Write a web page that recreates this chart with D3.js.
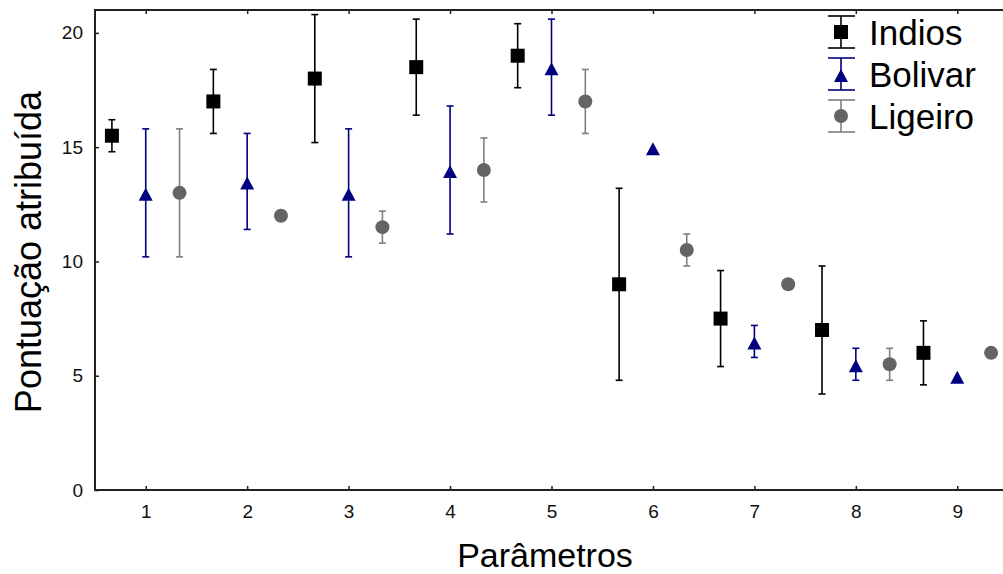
<!DOCTYPE html>
<html>
<head>
<meta charset="utf-8">
<script src="https://cdn.jsdelivr.net/npm/d3@7"></script>
<style>
  body { margin: 0; background: #fff; }
  svg { display: block; font-family: "Liberation Sans", Arial, sans-serif; }
</style>
</head>
<body>
<div id="canvas"></div>
<script>
// data
const params = [1, 2, 3, 4, 5, 6, 7, 8, 9];
const seriesNames = ["Indios", "Bolivar", "Ligeiro"];
const indiosMean = [15.5, 17, 18, 18.5, 19, 9, 7.5, 7, 6];
const indiosErr = [0.7, 1.4, 2.8, 2.1, 1.4, 4.2, 2.1, 2.8, 1.4];
const bolivarMean = [13, 13.5, 13, 14, 18.5, 15, 6.5, 5.5, 5];
const bolivarErr = [2.8, 2.1, 2.8, 2.8, 2.1, 0, 0.7, 0.7, 0];
const ligeiroMean = [13, 12, 11.5, 14, 17, 10.5, 9, 5.5, 6];
const ligeiroErr = [2.8, 0, 0.7, 1.4, 1.4, 0.7, 0, 0.7, 0];
const yTicks = [0, 5, 10, 15, 20];

const width = 1003;
const height = 574;
const margin = { top: 10, left: 95, bottom: 84, right: -5 };
const iwidth = width - margin.left - margin.right;
const iheight = height - margin.top - margin.bottom;

const series = [
  { name: seriesNames[0], mean: indiosMean, err: indiosErr, shift: -1 / 3,
    shape: "square", fill: "#000000", bar: "#000000" },
  { name: seriesNames[1], mean: bolivarMean, err: bolivarErr, shift: 0,
    shape: "triangle", fill: "#000080", bar: "#000080" },
  { name: seriesNames[2], mean: ligeiroMean, err: ligeiroErr, shift: 1 / 3,
    shape: "circle", fill: "#646464", bar: "#808080" }
];

const svg = d3.select("#canvas").append("svg")
  .attr("width", width)
  .attr("height", height);

const g = svg.append("g")
  .attr("transform", `translate(${margin.left},${margin.top})`);

const x = d3.scaleLinear().domain([0.5, 9.5]).range([0, iwidth]);
const y = d3.scaleLinear().domain([0, 21]).range([iheight, 0]);

// axes, ticks point inside
const xAxis = g.append("g")
  .attr("transform", `translate(0,${iheight})`)
  .call(d3.axisBottom(x).tickValues(params).tickSizeInner(-4).tickSizeOuter(0).tickPadding(15));
const xTop = g.append("g")
  .call(d3.axisTop(x).tickValues(params).tickSizeInner(-4).tickSizeOuter(0).tickFormat(""));
const yAxis = g.append("g")
  .call(d3.axisLeft(y).tickValues(yTicks).tickSizeInner(-4).tickSizeOuter(0).tickPadding(12));

[xAxis, xTop, yAxis].forEach((a) => {
  a.select(".domain").remove();
  a.selectAll(".tick line").attr("stroke", "#222").attr("stroke-width", 1.5);
  a.selectAll("text").attr("font-size", 19).attr("fill", "#111")
    .attr("font-family", "Liberation Sans, Arial, sans-serif");
});

// frame
g.append("rect")
  .attr("x", 0).attr("y", 0)
  .attr("width", iwidth).attr("height", iheight)
  .attr("fill", "none")
  .attr("stroke", "#222")
  .attr("stroke-width", 2);

const drawMarker = (sel, shape, fill) => {
  if (shape === "square") {
    sel.append("rect").attr("x", -7).attr("y", -7)
      .attr("width", 14).attr("height", 14).attr("fill", fill);
  } else if (shape === "triangle") {
    sel.append("path").attr("d", "M0,-5L7,8L-7,8Z").attr("fill", fill);
  } else {
    sel.append("circle").attr("r", 7).attr("fill", fill);
  }
};

// error bars and points
series.forEach((s) => {
  const pts = params.map((p, i) => ({ p: p, m: s.mean[i], e: s.err[i] }));
  const grp = g.append("g").attr("class", "series");

  const eb = grp.selectAll(".err")
    .data(pts.filter((d) => d.e > 0))
    .enter()
    .append("g")
    .attr("class", "err")
    .attr("stroke", s.bar)
    .attr("stroke-width", 1.6);

  eb.append("line")
    .attr("x1", (d) => x(d.p + s.shift)).attr("x2", (d) => x(d.p + s.shift))
    .attr("y1", (d) => y(d.m + d.e)).attr("y2", (d) => y(d.m - d.e));
  eb.append("line")
    .attr("x1", (d) => x(d.p + s.shift) - 3.5).attr("x2", (d) => x(d.p + s.shift) + 3.5)
    .attr("y1", (d) => y(d.m + d.e)).attr("y2", (d) => y(d.m + d.e));
  eb.append("line")
    .attr("x1", (d) => x(d.p + s.shift) - 3.5).attr("x2", (d) => x(d.p + s.shift) + 3.5)
    .attr("y1", (d) => y(d.m - d.e)).attr("y2", (d) => y(d.m - d.e));

  grp.selectAll(".pt")
    .data(pts)
    .enter()
    .append("g")
    .attr("class", "pt")
    .attr("transform", (d) => `translate(${x(d.p + s.shift)},${y(d.m)})`)
    .each(function () { drawMarker(d3.select(this), s.shape, s.fill); });
});

// legend
const legend = svg.append("g").attr("transform", "translate(841,0)");
series.forEach((s, i) => {
  const top = 16 + i * 42;
  const bot = top + 32;
  const mid = (top + bot) / 2;
  const item = legend.append("g");
  item.append("line").attr("x1", 0).attr("x2", 0).attr("y1", top).attr("y2", bot)
    .attr("stroke", s.bar).attr("stroke-width", 1.6);
  [top, bot].forEach((yy) => {
    item.append("line").attr("x1", -13).attr("x2", 14).attr("y1", yy).attr("y2", yy)
      .attr("stroke", s.bar).attr("stroke-width", 1.6);
  });
  drawMarker(item.append("g").attr("transform", `translate(0,${mid})`), s.shape, s.fill);
  item.append("text")
    .attr("x", 28).attr("y", 45 + i * 42)
    .attr("font-size", 35)
    .attr("fill", "#000")
    .text(s.name);
});

// axis titles
svg.append("text")
  .attr("transform", "translate(41,252) rotate(-90)")
  .attr("text-anchor", "middle")
  .attr("font-size", 36)
  .attr("fill", "#000")
  .text("Pontuação atribuída");

svg.append("text")
  .attr("x", 545).attr("y", 567)
  .attr("text-anchor", "middle")
  .attr("font-size", 34)
  .attr("fill", "#000")
  .text("Parâmetros");
</script>
</body>
</html>
